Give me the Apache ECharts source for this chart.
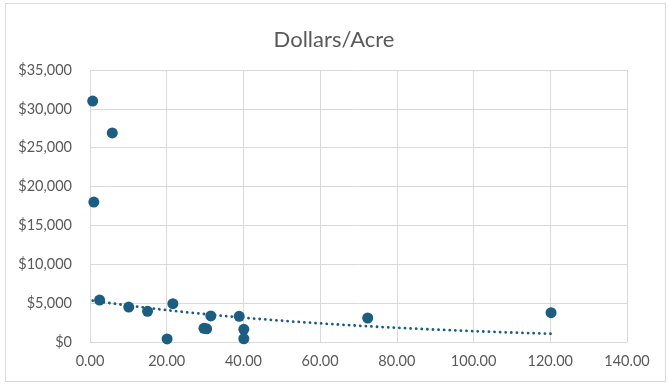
<!DOCTYPE html>
<html>
<head>
<meta charset="utf-8">
<script src="https://cdn.jsdelivr.net/npm/echarts@6/dist/echarts.min.js"></script>
<style>
  html, body { margin: 0; padding: 0; background: #fff; }
  #frame { position: absolute; left: 5px; top: 3px; width: 661px; height: 379px; border: 1px solid #d9d9d9; box-sizing: border-box; }
  #chart { position: absolute; left: 0; top: 0; width: 668px; height: 385px; }
</style>
</head>
<body>
<div id="frame"></div>
<div id="chart"></div>
<script>
// Acres per parcel and the sale price per acre
const acres = [0.7, 5.8, 1.0, 2.5, 10.1, 15.0, 21.6, 20.1, 29.7, 30.4, 31.5, 38.9, 40.1, 40.1, 72.4, 120.2];
const dollarsPerAcre = [31000, 26900, 18000, 5400, 4500, 3950, 4930, 400, 1760, 1700, 3350, 3300, 1630, 420, 3090, 3770];
const xTicks = [0, 20, 40, 60, 80, 100, 120, 140];
const yTicks = [0, 5000, 10000, 15000, 20000, 25000, 30000, 35000];

// Exponential trend (least squares on ln y), drawn across the data's x range
function expFit(xs, ys) {
  const n = xs.length;
  const ly = ys.map(Math.log);
  const mx = xs.reduce((a, b) => a + b, 0) / n;
  const my = ly.reduce((a, b) => a + b, 0) / n;
  let sxy = 0, sxx = 0;
  for (let i = 0; i < n; i++) {
    sxy += (xs[i] - mx) * (ly[i] - my);
    sxx += (xs[i] - mx) * (xs[i] - mx);
  }
  const b = sxy / sxx;
  const a = Math.exp(my - b * mx);
  return x => a * Math.exp(b * x);
}
const trend = expFit(acres, dollarsPerAcre);
const xMin = Math.min(...acres), xMax = Math.max(...acres);
const trendPts = [];
for (let i = 0; i <= 60; i++) {
  const x = xMin + (xMax - xMin) * i / 60;
  trendPts.push([x, trend(x)]);
}

const labelColor = '#595959';
const gridColor = '#d9d9d9';
const markColor = '#1b5e82';
const font = 'Lato, "Open Sans", sans-serif';

const chart = echarts.init(document.getElementById('chart'), null, { renderer: 'canvas' });
chart.setOption({
  animation: false,
  title: {
    text: 'Dollars/Acre',
    left: 'center',
    top: 24,
    textStyle: { fontFamily: font, fontSize: 22, fontWeight: 'normal', color: labelColor }
  },
  grid: { left: 90, right: 41, top: 70, bottom: 43 },
  xAxis: {
    type: 'value',
    min: xTicks[0],
    max: xTicks[xTicks.length - 1],
    interval: 20,
    axisLine: { show: true, lineStyle: { color: gridColor, width: 1 } },
    axisTick: { show: false },
    splitLine: { show: true, lineStyle: { color: gridColor, width: 1 } },
    axisLabel: { color: labelColor, fontFamily: font, fontSize: 14.5, margin: 12,
      formatter: v => v.toFixed(2) }
  },
  yAxis: {
    type: 'value',
    min: yTicks[0],
    max: yTicks[yTicks.length - 1],
    interval: 5000,
    axisLine: { show: false },
    axisTick: { show: false },
    splitLine: { show: true, lineStyle: { color: gridColor, width: 1 } },
    axisLabel: { color: labelColor, fontFamily: font, fontSize: 14.5, margin: 18,
      formatter: v => '$' + v.toLocaleString('en-US') }
  },
  series: [
    {
      type: 'line',
      data: trendPts,
      showSymbol: false,
      smooth: false,
      lineStyle: { color: markColor, width: 2.8, type: [0.1, 5.5], cap: 'round' },
      z: 2
    },
    {
      type: 'scatter',
      data: acres.map((x, i) => [x, dollarsPerAcre[i]]),
      symbolSize: 11,
      itemStyle: { color: markColor, opacity: 1 },
      z: 3
    }
  ]
});
</script>
</body>
</html>
